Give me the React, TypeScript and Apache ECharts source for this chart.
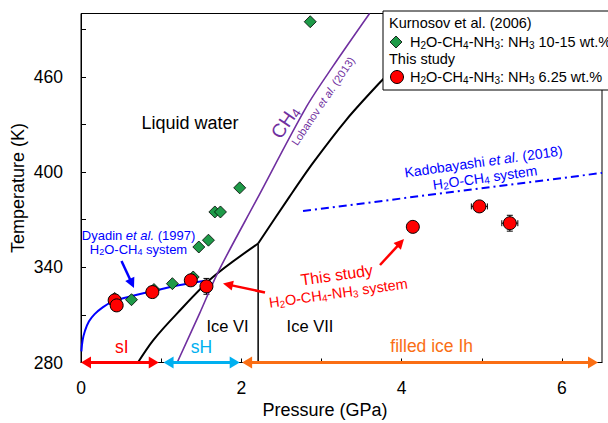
import React, { useEffect, useRef } from 'react';
import * as echarts from 'echarts';

const FONT = '"Liberation Sans", Arial, Helvetica, sans-serif';

// Kurnosov et al. (2006): H2O-CH4-NH3, NH3 10-15 wt.%
const kurnosovP = [0.42, 0.63, 0.91, 1.14, 1.4, 1.47, 1.59, 1.67, 1.74, 1.98, 2.86];
const kurnosovT = [320.4, 319.6, 326.0, 329.7, 333.9, 352.8, 357.1, 374.9, 374.9, 390.1, 494.8];

// This study: H2O-CH4-NH3, NH3 6.25 wt.%
const studyP = [0.42, 0.445, 0.89, 1.37, 1.565, 4.14, 4.97, 5.35];
const studyT = [319.2, 316.0, 324.4, 331.8, 328.0, 365.5, 378.4, 367.8];
const studyPErr = [0, 0, 0, 0, 0, 0, 0.1, 0.1];
const studyTErr = [0, 0, 0, 0, 5, 0, 0, 5];

// Dyadin et al. (1997) H2O-CH4 system
const dyadinP = [0.005, 0.02, 0.05, 0.1, 0.17, 0.25, 0.4, 0.6, 0.9, 1.2, 1.55];
const dyadinT = [287, 294, 300, 306, 310.5, 314, 318.5, 321.5, 325, 328.5, 331.5];

// water phase boundaries
const iceVIMeltP = [0.71, 0.9, 1.2, 1.65, 2.21];
const iceVIMeltT = [280, 294, 311, 334, 355];
const iceVIVIIP = [2.21, 2.21];
const iceVIVIIT = [355, 280];
const iceVIIMeltP = [2.21, 2.6, 2.89, 3.31, 3.72, 3.9];
const iceVIIMeltT = [355, 384.4, 405.5, 433, 456, 465];

// CH4 melting, Lobanov et al. (2013)
const lobanovP = [1.2, 1.48, 1.71, 2.19, 2.81, 3.14, 3.6];
const lobanovT = [280, 311, 337, 382.5, 441, 466.5, 500];

// Kadobayashi et al. (2018)
const kadobayashiP = [2.77, 6.5];
const kadobayashiT = [375.5, 399.5];

// hydrate stability ranges (GPa) at 280 K
const phaseFrom = [0, 1.03, 2.01];
const phaseTo = [0.97, 1.98, 6.45];
const phaseT = 280;

const xTicks = [0, 1, 2, 3, 4, 5, 6];
const xLabels = [0, 2, 4, 6];
const yTicks = [280, 310, 340, 370, 400, 430, 460, 490];
const yLabels = [280, 340, 400, 460];

const PHASE_COLORS = ['#ff0000', '#00b0f0', '#fa6e14'];
const RED = '#ff0000';
const BLUE = '#0000ff';
const PURPLE = '#7030a0';
const GREEN = '#1e9a48';

const zip = (a: number[], b: number[]) => a.map((v, i) => [v, b[i]]);

function arrow(x1: number, y1: number, x2: number, y2: number, color: string, lw: number, hl: number, hw: number) {
  const ang = Math.atan2(y2 - y1, x2 - x1);
  const ux = Math.cos(ang), uy = Math.sin(ang);
  const bx = x2 - ux * hl, by = y2 - uy * hl;
  const px = -uy * hw, py = ux * hw;
  return [
    { type: 'line', z: 50, shape: { x1, y1, x2: bx + ux, y2: by + uy }, style: { stroke: color, lineWidth: lw } },
    { type: 'polygon', z: 50, shape: { points: [[x2, y2], [bx + px, by + py], [bx - px, by - py]] }, style: { fill: color } },
  ];
}

function richStyles(size: number, color: string) {
  return {
    n: { fontSize: size, fontFamily: FONT, fill: color, lineHeight: size + 2 },
    i: { fontSize: size, fontFamily: FONT, fill: color, fontStyle: 'italic', lineHeight: size + 2 },
    s: { fontSize: Math.round(size * 0.68), fontFamily: FONT, fill: color, lineHeight: Math.round(size * 0.55), verticalAlign: 'bottom' },
  };
}

function rtext(x: number, y: number, text: string, size: number, color: string, rotationDeg = 0, align = 'center', z = 50) {
  return {
    type: 'text',
    x,
    y,
    z,
    rotation: (rotationDeg * Math.PI) / 180,
    style: {
      text,
      rich: richStyles(size, color),
      align,
      verticalAlign: 'middle',
      fontSize: size,
      fontFamily: FONT,
      fill: color,
    },
  };
}

function ptext(x: number, y: number, text: string, size: number, color: string, rotationDeg = 0, align = 'center', z = 50) {
  return {
    type: 'text',
    x,
    y,
    z,
    rotation: (rotationDeg * Math.PI) / 180,
    style: { text, fontSize: size, fontFamily: FONT, fill: color, align, verticalAlign: 'middle' },
  };
}

export default function App() {
  const ref = useRef<HTMLDivElement>(null);

  useEffect(() => {
    if (!ref.current) return;
    const chart = echarts.init(ref.current, null, { renderer: 'svg' });

    const lineSeries = (data: number[][], color: string, width: number, smooth: number | boolean, type: any = 'solid') => ({
      type: 'line',
      data,
      showSymbol: false,
      symbol: 'none',
      smooth,
      lineStyle: { color, width, type },
      z: 2,
      silent: true,
    });

    const option: any = {
      animation: false,
      backgroundColor: '#ffffff',
      grid: { left: 81, right: 6, top: 13.5, bottom: 60.5, show: true, borderColor: '#000', borderWidth: 1, backgroundColor: 'transparent' },
      xAxis: {
        type: 'value',
        min: 0,
        max: 6.5,
        axisLine: { show: true, onZero: false, lineStyle: { color: '#000', width: 1 } },
        axisTick: { show: true, inside: true, length: 4, lineStyle: { color: '#000' }, customValues: xTicks },
        axisLabel: { customValues: xLabels, fontSize: 17.5, color: '#000', fontFamily: FONT, margin: 16 },
        splitLine: { show: false },
      },
      yAxis: {
        type: 'value',
        min: 280,
        max: 500,
        axisLine: { show: true, onZero: false, lineStyle: { color: '#000', width: 1 } },
        axisTick: { show: true, inside: true, length: 5, lineStyle: { color: '#000' }, customValues: yTicks },
        axisLabel: { customValues: yLabels, fontSize: 17.5, color: '#000', fontFamily: FONT, margin: 18 },
        splitLine: { show: false },
      },
      series: [
        lineSeries(zip(dyadinP, dyadinT), BLUE, 2, 0.4),
        lineSeries(zip(iceVIMeltP, iceVIMeltT), '#000', 2, 0.3),
        lineSeries(zip(iceVIVIIP, iceVIVIIT), '#000', 1.5, false),
        lineSeries(zip(iceVIIMeltP, iceVIIMeltT), '#000', 2, 0.3),
        lineSeries(zip(lobanovP, lobanovT), PURPLE, 1.6, 0.3),
        lineSeries(zip(kadobayashiP, kadobayashiT), BLUE, 2, false, [8, 4, 2, 4]),
        {
          type: 'custom',
          clip: false,
          encode: { x: 0, y: 1 },
          z: 2,
          silent: true,
          data: studyP.map((p, i) => [p, studyT[i], studyPErr[i], studyTErr[i]]),
          renderItem: (params: any, api: any) => {
            const x = api.value(0), y = api.value(1), dx = api.value(2), dy = api.value(3);
            const style = { stroke: '#000', lineWidth: 1 };
            const children: any[] = [];
            const cap = 3;
            if (dx > 0) {
              const a = api.coord([x - dx, y]);
              const b = api.coord([x + dx, y]);
              children.push({ type: 'line', shape: { x1: a[0], y1: a[1], x2: b[0], y2: b[1] }, style });
              children.push({ type: 'line', shape: { x1: a[0], y1: a[1] - cap, x2: a[0], y2: a[1] + cap }, style });
              children.push({ type: 'line', shape: { x1: b[0], y1: b[1] - cap, x2: b[0], y2: b[1] + cap }, style });
            }
            if (dy > 0) {
              const a = api.coord([x, y - dy]);
              const b = api.coord([x, y + dy]);
              children.push({ type: 'line', shape: { x1: a[0], y1: a[1], x2: b[0], y2: b[1] }, style });
              children.push({ type: 'line', shape: { x1: a[0] - cap, y1: a[1], x2: a[0] + cap, y2: a[1] }, style });
              children.push({ type: 'line', shape: { x1: b[0] - cap, y1: b[1], x2: b[0] + cap, y2: b[1] }, style });
            }
            return { type: 'group', children };
          },
        },
        {
          type: 'scatter',
          data: zip(kurnosovP, kurnosovT),
          symbol: 'diamond',
          symbolSize: 12,
          itemStyle: { color: GREEN, borderColor: '#000', borderWidth: 0.8, opacity: 1 },
          z: 3,
          silent: true,
        },
        {
          type: 'scatter',
          data: zip(studyP, studyT),
          symbol: 'circle',
          symbolSize: 13,
          itemStyle: { color: RED, borderColor: '#000', borderWidth: 1, opacity: 1 },
          z: 4,
          silent: true,
        },
        {
          type: 'custom',
          clip: false,
          encode: { x: [0, 1], y: 2 },
          z: 5,
          silent: true,
          data: phaseFrom.map((f, i) => [f, phaseTo[i], phaseT]),
          renderItem: (params: any, api: any) => {
            const i = params.dataIndex;
            const a = api.coord([api.value(0), api.value(2)]);
            const b = api.coord([api.value(1), api.value(2)]);
            const color = PHASE_COLORS[i];
            const hl = 10, hw = 6;
            return {
              type: 'group',
              children: [
                { type: 'line', shape: { x1: a[0] + hl - 1, y1: a[1], x2: b[0] - hl + 1, y2: b[1] }, style: { stroke: color, lineWidth: 3 } },
                { type: 'polygon', shape: { points: [[a[0], a[1]], [a[0] + hl, a[1] - hw], [a[0] + hl, a[1] + hw]] }, style: { fill: color } },
                { type: 'polygon', shape: { points: [[b[0], b[1]], [b[0] - hl, b[1] - hw], [b[0] - hl, b[1] + hw]] }, style: { fill: color } },
              ],
            };
          },
        },
      ],
      graphic: [
        // axis names
        ptext(325, 410, 'Pressure (GPa)', 18, '#000'),
        ptext(18, 188, 'Temperature (K)', 18, '#000', 90),
        // region labels
        ptext(190, 123, 'Liquid water', 18, '#000'),
        ptext(227.5, 325.5, 'Ice VI', 16.5, '#000'),
        ptext(310, 325.5, 'Ice VII', 16.5, '#000'),
        ptext(121.7, 346.5, 'sI', 17.5, PHASE_COLORS[0]),
        ptext(201.5, 346.5, 'sH', 17.5, PHASE_COLORS[1]),
        ptext(431.7, 346, 'filled ice Ih', 17.5, PHASE_COLORS[2]),
        // CH4 melting label
        rtext(285, 122, '{n|CH}{s|4}', 19, PURPLE, 56),
        rtext(323, 101, '{n|Lobanov }{i|et al.}{n| (2013)}', 11, PURPLE, 56),
        // Dyadin
        rtext(138.5, 235, '{n|Dyadin }{i|et al.}{n| (1997)}', 13, BLUE),
        rtext(138.5, 249, '{n|H}{s|2}{n|O-CH}{s|4}{n| system}', 13, BLUE),
        ...arrow(121.5, 261, 134, 288, BLUE, 2.5, 10, 5),
        // Kadobayashi
        rtext(483.5, 161.5, '{n|Kadobayashi }{i|et al.}{n| (2018)}', 14, BLUE, 8),
        rtext(485, 177.5, '{n|H}{s|2}{n|O-CH}{s|4}{n| system}', 14, BLUE, 8),
        // This study
        rtext(336.7, 275, '{n|This study}', 16, RED, 8),
        rtext(338.3, 293, '{n|H}{s|2}{n|O-CH}{s|4}{n|-NH}{s|3}{n| system}', 14.5, RED, 8),
        ...arrow(380, 265, 404, 239, RED, 2.5, 10, 5),
        ...arrow(265, 292.5, 223, 283.5, RED, 2.5, 10, 5),
        // legend
        {
          type: 'rect',
          z: 100,
          shape: { x: 383, y: 11, width: 240, height: 79 },
          style: { fill: '#ffffff', stroke: '#000', lineWidth: 1 },
        },
        ptext(389, 23, 'Kurnosov et al. (2006)', 14.5, '#000', 0, 'left', 101),
        {
          type: 'polygon',
          z: 101,
          shape: { points: [[396, 36], [402, 42], [396, 48], [390, 42]] },
          style: { fill: GREEN, stroke: '#000', lineWidth: 0.8 },
        },
        rtext(410, 42, '{n|H}{s|2}{n|O-CH}{s|4}{n|-NH}{s|3}{n|: NH}{s|3}{n| 10-15 wt.%}', 14.5, '#000', 0, 'left', 101),
        ptext(389, 58.5, 'This study', 14.5, '#000', 0, 'left', 101),
        {
          type: 'circle',
          z: 101,
          shape: { cx: 397, cy: 77, r: 6.5 },
          style: { fill: RED, stroke: '#000', lineWidth: 1 },
        },
        rtext(410, 77, '{n|H}{s|2}{n|O-CH}{s|4}{n|-NH}{s|3}{n|: NH}{s|3}{n| 6.25 wt.%}', 14.5, '#000', 0, 'left', 101),
      ],
    };

    chart.setOption(option);
    return () => chart.dispose();
  }, []);

  return <div ref={ref} style={{ position: 'fixed', left: 0, top: 0, width: 608, height: 423, background: '#fff' }} />;
}
